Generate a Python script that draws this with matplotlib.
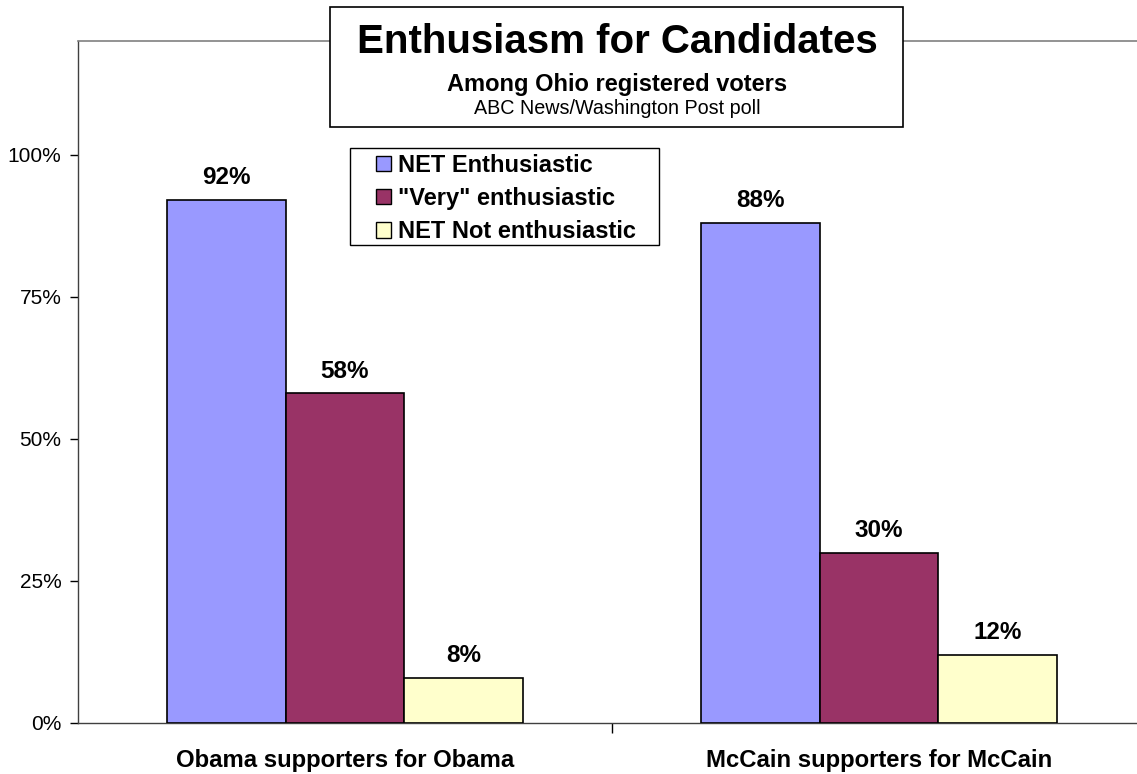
import numpy as np
import matplotlib
matplotlib.use("Agg")
import matplotlib.pyplot as plt
from matplotlib.patches import Rectangle

plt.rcParams["font.family"] = ["Liberation Sans", "DejaVu Sans"]

# ===== data =====
groups = ["Obama supporters for Obama", "McCain supporters for McCain"]
series_names = ["NET Enthusiastic", "\"Very\" enthusiastic", "NET Not enthusiastic"]
net_enth = [92, 88]
very_enth = [58, 30]
not_enth = [8, 12]
colors = ["#9999FF", "#993366", "#FFFFCC"]
yticks = [0, 25, 50, 75, 100]

W, H = 1137, 774
fig = plt.figure(figsize=(W / 100, H / 100), dpi=100)

# axes extends a bit past the right edge, like the original
ax_l, ax_r, ax_b, ax_t = 78, 1146, 723, 41
ax = fig.add_axes([ax_l / W, 1 - ax_b / H, (ax_r - ax_l) / W, (ax_b - ax_t) / H])

x = np.arange(len(groups))
bw = 0.222
for i, (vals, name, col) in enumerate(zip([net_enth, very_enth, not_enth], series_names, colors)):
    pos = x + (i - 1) * bw
    ax.bar(pos, vals, bw, color=col, edgecolor="black", linewidth=1.2, label=name, zorder=3)
    for p, v in zip(pos, vals):
        ax.text(p, v + 1.9, f"{v}%", ha="center", va="bottom", fontsize=17.5, fontweight="bold")

ax.set_xlim(-0.5, 1.5)
ax.set_ylim(0, 120)
ax.set_yticks(yticks)
ax.set_yticklabels([f"{t}%" for t in yticks], fontsize=15)
ax.set_xticks([0.5])
ax.set_xticklabels([""])
ax.tick_params(axis="y", length=6, width=1, direction="out", pad=6)
ax.tick_params(axis="x", length=7, width=1, direction="out")
ax.spines["right"].set_visible(False)
ax.spines["top"].set_color("#808080")
ax.spines["top"].set_linewidth(1.2)
ax.spines["left"].set_linewidth(1.0)
ax.spines["bottom"].set_linewidth(1.0)
ax.spines["bottom"].set_color("#404040")
ax.spines["left"].set_color("#404040")

for gx, g in zip(x, groups):
    ax.text(gx, -6.6, g, ha="center", va="center", fontsize=17.2, fontweight="bold",
            transform=ax.transData)

# legend: box drawn separately so padding can be uneven
fig.patches.append(Rectangle((350 / W, 1 - 245 / H), (659 - 350) / W, (245 - 148) / H,
                             transform=fig.transFigure, facecolor="white", edgecolor="black",
                             linewidth=1.0, zorder=4))
leg = fig.legend(*ax.get_legend_handles_labels(), loc="upper left",
                 bbox_to_anchor=(376 / W, 1 - 154 / H),
                 frameon=False, fontsize=17, handlelength=0.62, handleheight=0.62,
                 handletextpad=0.3, labelspacing=0.43, borderpad=0, borderaxespad=0)
leg.set_zorder(5)
for t in leg.get_texts():
    t.set_fontweight("bold")
for h in leg.legend_handles:
    h.set_linewidth(1.0)

# title box
fig.patches.append(Rectangle((330 / W, 1 - 127 / H), (903 - 330) / W, (127 - 7) / H,
                             transform=fig.transFigure, facecolor="white", edgecolor="black",
                             linewidth=1.2, zorder=5))
fig.text(617 / W, 1 - 42 / H, "Enthusiasm for Candidates", ha="center", va="center",
         fontsize=29, fontweight="bold", zorder=6)
fig.text(617 / W, 1 - 84 / H, "Among Ohio registered voters", ha="center", va="center",
         fontsize=17, fontweight="bold", zorder=6)
fig.text(617 / W, 1 - 108 / H, "ABC News/Washington Post poll", ha="center", va="center",
         fontsize=14.2, zorder=6)

fig.savefig("out.png", dpi=100)
